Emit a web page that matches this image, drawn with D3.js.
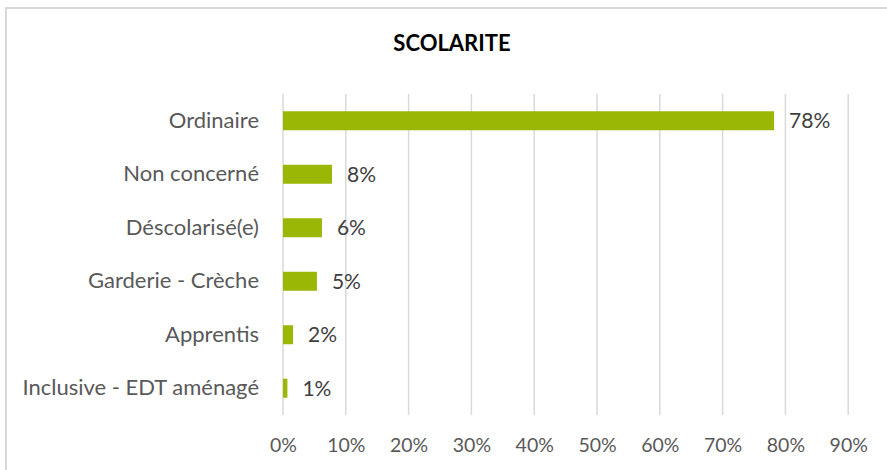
<!DOCTYPE html>
<html>
<head>
<meta charset="utf-8">
<script src="https://cdn.jsdelivr.net/npm/d3@7"></script>
<style>
  body { margin: 0; background: #fff; }
  text { font-family: Lato, "Open Sans", sans-serif; }
</style>
</head>
<body>
<div id="chart"></div>
<script>
// data
var categories = ["Ordinaire", "Non concerné", "Déscolarisé(e)", "Garderie - Crèche", "Apprentis", "Inclusive - EDT aménagé"];
var values = [0.782, 0.078, 0.062, 0.054, 0.016, 0.007];
var ticks = [0, 0.1, 0.2, 0.3, 0.4, 0.5, 0.6, 0.7, 0.8, 0.9];

var W = 887, H = 470;
var margin = {top: 94, right: 38, bottom: 55, left: 283};

var svg = d3.select("#chart")
  .append("svg")
  .attr("width", W)
  .attr("height", H);

// outer frame
svg.append("rect")
  .attr("x", 6).attr("y", 8)
  .attr("width", W + 10).attr("height", H + 10)
  .attr("fill", "none")
  .attr("stroke", "#d9d9d9")
  .attr("stroke-width", 2);

var x = d3.scaleLinear()
  .domain([0, 0.9])
  .range([margin.left, margin.left + 9 * 62.8]);

var y = d3.scaleBand()
  .domain(categories)
  .range([margin.top, 415])
  .paddingInner(0.645)
  .paddingOuter(0.3225);

// grid lines
svg.append("g")
  .selectAll("line")
  .data(ticks)
  .enter().append("line")
  .attr("x1", function(d) { return x(d); })
  .attr("x2", function(d) { return x(d); })
  .attr("y1", margin.top)
  .attr("y2", 415)
  .attr("stroke", "#d9d9d9")
  .attr("stroke-width", 1.5);

// x axis labels
var xAxis = svg.append("g")
  .attr("transform", "translate(0,452)")
  .call(d3.axisBottom(x).tickValues(ticks).tickFormat(d3.format(".0%")).tickSize(0).tickPadding(0));
xAxis.select(".domain").remove();
xAxis.selectAll("text")
  .attr("dy", "0")
  .attr("fill", "#595959")
  .style("font-size", "19.5px")
  .style("font-family", "Lato, 'Open Sans', sans-serif");

// y axis labels
var yAxis = svg.append("g")
  .attr("transform", "translate(" + (margin.left - 24) + ",0)")
  .call(d3.axisLeft(y).tickSize(0).tickPadding(0));
yAxis.select(".domain").remove();
yAxis.selectAll("text")
  .attr("fill", "#595959")
  .style("font-size", "22px")
  .style("font-family", "Lato, 'Open Sans', sans-serif");

// bars
svg.append("g")
  .selectAll("rect")
  .data(values)
  .enter().append("rect")
  .attr("x", x(0))
  .attr("y", function(d, i) { return y(categories[i]); })
  .attr("width", function(d) { return x(d) - x(0); })
  .attr("height", y.bandwidth())
  .attr("fill", "#9bb705");

// value labels
svg.append("g")
  .selectAll("text")
  .data(values)
  .enter().append("text")
  .attr("x", function(d) { return x(d) + 15; })
  .attr("y", function(d, i) { return y(categories[i]) + y.bandwidth() / 2; })
  .attr("dy", "0.35em")
  .attr("fill", "#404040")
  .style("font-size", "21px")
  .text(function(d) { return d3.format(".0%")(d); });

// title
svg.append("text")
  .attr("x", 452)
  .attr("y", 51)
  .attr("text-anchor", "middle")
  .attr("fill", "#000")
  .style("font-size", "22px")
  .style("font-weight", "bold")
  .text("SCOLARITE");
</script>
</body>
</html>
